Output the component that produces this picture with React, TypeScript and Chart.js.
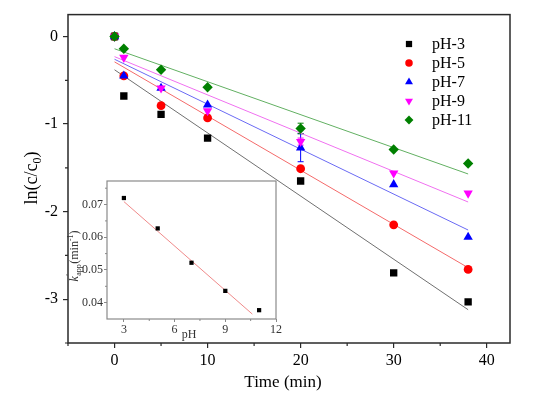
import React, { useEffect, useRef } from 'react';
import { Chart, registerables } from 'chart.js';
import { drawPoint } from 'chart.js/helpers';

Chart.register(...registerables);

const FONT = "'Liberation Serif', 'Times New Roman', serif";

// ---- main chart data ----
const times = [0, 1, 5, 10, 20, 30, 38];
const seriesLabels = ['pH-3', 'pH-5', 'pH-7', 'pH-9', 'pH-11'];
const ph3 = [0, -0.68, -0.89, -1.16, -1.65, -2.7, -3.03];
const ph5 = [0, -0.45, -0.79, -0.93, -1.51, -2.15, -2.66];
const ph7 = [0, -0.45, -0.59, -0.78, -1.27, -1.69, -2.29];
const ph9 = [0, -0.24, -0.59, -0.85, -1.2, -1.56, -1.79];
const ph11 = [0, -0.14, -0.38, -0.58, -1.05, -1.29, -1.45];
const err3 = [0, 0, 0, 0, 0, 0, 0];
const err5 = [0, 0, 0, 0, 0, 0, 0];
const err7 = [0, 0, 0, 0, 0.16, 0, 0];
const err9 = [0, 0, 0, 0, 0.04, 0, 0];
const err11 = [0.04, 0, 0, 0, 0.06, 0, 0];
const fitX = [0, 38];
const fit3 = [-0.38, -3.12];
const fit5 = [-0.29, -2.64];
const fit7 = [-0.26, -2.21];
const fit9 = [-0.23, -1.89];
const fit11 = [-0.14, -1.57];
const xMajorTicks = [0, 10, 20, 30, 40];
const xMinorTicks = [-5, 5, 15, 25, 35];
const yMajorTicks = [-3, -2, -1, 0];
const yMinorTicks = [-3.5, -2.5, -1.5, -0.5];

// ---- inset data ----
const phValues = [3, 5, 7, 9, 11];
const kapp = [0.072, 0.0627, 0.0522, 0.0436, 0.0377];
const kFitX = [3, 10.6];
const kFitY = [0.0709, 0.0365];
const insetXTicks = [3, 6, 9, 12];
const insetXMinor = [4.5, 7.5, 10.5];
const insetYTicks = [0.04, 0.05, 0.06, 0.07];
const insetYMinor = [0.045, 0.055, 0.065, 0.075];

const seriesValues = [ph3, ph5, ph7, ph9, ph11];
const seriesErrors = [err3, err5, err7, err9, err11];
const fitValues = [fit3, fit5, fit7, fit9, fit11];
const markerColors = ['#000000', '#ff0000', '#0000ff', '#ff00ff', '#008000'];
const fitColors = ['#707070', '#f46a6a', '#6a6af4', '#f070f0', '#62b062'];
const markerStyles = ['rect', 'circle', 'triangle', 'triangle', 'rectRot'];
const markerRotation = [0, 0, 0, 180, 0];
const markerRadius = [5.2, 4.4, 5.4, 5.4, 5.2];

const mainDecor = {
  id: 'mainDecor',
  beforeDatasetsDraw(chart: any) {
    const ctx = chart.ctx;
    const ys = chart.scales.y;
    chart.data.datasets.forEach((ds: any, i: number) => {
      if (!ds.errors) return;
      const meta = chart.getDatasetMeta(i);
      ctx.save();
      ctx.strokeStyle = ds.borderColor;
      ctx.lineWidth = 1;
      ds.errors.forEach((e: number, j: number) => {
        if (!e) return;
        const pt = meta.data[j];
        const v = ds.data[j].y;
        const y1 = ys.getPixelForValue(v + e);
        const y2 = ys.getPixelForValue(v - e);
        ctx.beginPath();
        ctx.moveTo(pt.x, y1); ctx.lineTo(pt.x, y2);
        ctx.moveTo(pt.x - 3, y1); ctx.lineTo(pt.x + 3, y1);
        ctx.moveTo(pt.x - 3, y2); ctx.lineTo(pt.x + 3, y2);
        ctx.stroke();
      });
      ctx.restore();
    });
  },
  afterDraw(chart: any) {
    const ctx = chart.ctx;
    const a = chart.chartArea;
    const xs = chart.scales.x;
    const ys = chart.scales.y;
    ctx.save();
    ctx.strokeStyle = '#2a2a2a';
    ctx.lineWidth = 1.5;
    ctx.strokeRect(a.left, a.top, a.right - a.left, a.bottom - a.top);
    ctx.lineWidth = 1.2;
    ctx.beginPath();
    xMinorTicks.forEach((v) => {
      const px = xs.getPixelForValue(v);
      ctx.moveTo(px, a.bottom); ctx.lineTo(px, a.bottom + 3);
    });
    yMinorTicks.forEach((v) => {
      const py = ys.getPixelForValue(v);
      ctx.moveTo(a.left, py); ctx.lineTo(a.left - 3, py);
    });
    ctx.stroke();
    ctx.fillStyle = '#000';
    ctx.font = `17px ${FONT}`;
    ctx.textAlign = 'center';
    ctx.textBaseline = 'middle';
    ctx.fillText('Time (min)', 283, 383);
    ctx.save();
    ctx.translate(31, 178);
    ctx.rotate(-Math.PI / 2);
    ctx.textAlign = 'left';
    ctx.textBaseline = 'alphabetic';
    const big = `18px ${FONT}`;
    const small = `12px ${FONT}`;
    ctx.font = big;
    const w1 = ctx.measureText('ln(c/c').width;
    const w3 = ctx.measureText(')').width;
    ctx.font = small;
    const w2 = ctx.measureText('0').width;
    const x0 = -(w1 + w2 + w3) / 2;
    ctx.font = big;
    ctx.fillText('ln(c/c', x0, 6);
    ctx.font = small;
    ctx.fillText('0', x0 + w1, 10);
    ctx.font = big;
    ctx.fillText(')', x0 + w1 + w2, 6);
    ctx.restore();
    const rowY = [44, 63, 82, 101, 120];
    ctx.font = `16px ${FONT}`;
    ctx.textAlign = 'left';
    ctx.textBaseline = 'middle';
    seriesLabels.forEach((lab, i) => {
      ctx.fillStyle = markerColors[i];
      drawPoint(ctx, { pointStyle: markerStyles[i], rotation: markerRotation[i], radius: markerRadius[i] * 0.85, borderWidth: 0 } as any, 409, rowY[i]);
      ctx.fillStyle = '#000';
      ctx.fillText(lab, 432, rowY[i] + 1);
    });
    ctx.restore();
  },
};

const insetDecor = {
  id: 'insetDecor',
  beforeDraw(chart: any) {
    const a = chart.chartArea;
    const ctx = chart.ctx;
    ctx.save();
    ctx.fillStyle = '#fff';
    ctx.fillRect(a.left, a.top, a.right - a.left, a.bottom - a.top);
    ctx.restore();
  },
  afterDraw(chart: any) {
    const ctx = chart.ctx;
    const a = chart.chartArea;
    const xs = chart.scales.x;
    const ys = chart.scales.y;
    ctx.save();
    ctx.strokeStyle = '#8a8a8a';
    ctx.lineWidth = 1.2;
    ctx.strokeRect(a.left, a.top, a.right - a.left, a.bottom - a.top);
    ctx.lineWidth = 1;
    ctx.beginPath();
    insetXMinor.forEach((v) => {
      const px = xs.getPixelForValue(v);
      ctx.moveTo(px, a.bottom); ctx.lineTo(px, a.bottom + 2);
    });
    insetYMinor.forEach((v) => {
      const py = ys.getPixelForValue(v);
      ctx.moveTo(a.left, py); ctx.lineTo(a.left - 2, py);
    });
    ctx.stroke();
    ctx.fillStyle = '#333';
    ctx.font = `12px ${FONT}`;
    ctx.textAlign = 'center';
    ctx.textBaseline = 'middle';
    ctx.fillText('pH', 129, 165);
    ctx.save();
    ctx.translate(14, 86);
    ctx.rotate(-Math.PI / 2);
    ctx.textAlign = 'left';
    ctx.textBaseline = 'alphabetic';
    const fK = `italic 12px ${FONT}`;
    const fN = `12px ${FONT}`;
    const fS = `8px ${FONT}`;
    ctx.font = fK; const wk = ctx.measureText('k').width;
    ctx.font = fS; const wa = ctx.measureText('app').width;
    ctx.font = fN; const wm = ctx.measureText('(min').width;
    ctx.font = fS; const we = ctx.measureText('-1').width;
    ctx.font = fN; const wp = ctx.measureText(')').width;
    const tot = wk + wa + wm + we + wp + 1;
    let x = -tot / 2;
    const base = 4;
    ctx.font = fK; ctx.fillText('k', x, base); x += wk + 0.5;
    ctx.font = fS; ctx.fillText('\u2032', x, base - 6); ctx.fillText('app', x, base + 3); x += wa + 0.5;
    ctx.font = fN; ctx.fillText('(min', x, base); x += wm;
    ctx.font = fS; ctx.fillText('-1', x, base - 5); x += we;
    ctx.font = fN; ctx.fillText(')', x, base);
    ctx.restore();
    ctx.restore();
  },
};

export default function App() {
  const mainRef = useRef<HTMLCanvasElement>(null);
  const insetRef = useRef<HTMLCanvasElement>(null);

  useEffect(() => {
    const datasets: any[] = [];
    seriesLabels.forEach((lab, i) => {
      datasets.push({
        type: 'scatter',
        label: lab,
        data: times.map((t, j) => ({ x: t, y: seriesValues[i][j] })),
        pointStyle: markerStyles[i],
        rotation: markerRotation[i],
        pointRadius: markerRadius[i],
        backgroundColor: markerColors[i],
        borderColor: markerColors[i],
        borderWidth: 0,
        showLine: false,
        errors: seriesErrors[i],
        order: 5 - i,
      });
    });
    seriesLabels.forEach((lab, i) => {
      datasets.push({
        type: 'scatter',
        label: lab + ' fit',
        data: fitX.map((t, j) => ({ x: t, y: fitValues[i][j] })),
        showLine: true,
        pointRadius: 0,
        borderColor: fitColors[i],
        borderWidth: 1,
        fill: false,
        order: 10,
      });
    });

    const main = new Chart(mainRef.current as HTMLCanvasElement, {
      type: 'scatter',
      data: { datasets },
      plugins: [mainDecor],
      options: {
        animation: false,
        responsive: false,
        events: [],
        layout: { padding: { top: 14, right: 40, left: 0, bottom: 0 } },
        plugins: { legend: { display: false }, tooltip: { enabled: false } },
        scales: {
          x: {
            type: 'linear',
            min: -5,
            max: 42.5,
            afterBuildTicks: (s: any) => { s.ticks = xMajorTicks.map((v) => ({ value: v })); },
            afterFit: (s: any) => { s.height = 51; },
            ticks: { color: '#000', font: { family: FONT, size: 16 }, padding: 3, maxRotation: 0, autoSkip: false, callback: (v: any) => String(v) },
            grid: { drawOnChartArea: false, drawTicks: true, tickLength: 5, color: '#2a2a2a', lineWidth: 1.2 },
            border: { display: false },
          },
          y: {
            type: 'linear',
            min: -3.5,
            max: 0.25,
            afterBuildTicks: (s: any) => { s.ticks = yMajorTicks.map((v) => ({ value: v })); },
            afterFit: (s: any) => { s.width = 68; },
            ticks: { color: '#000', font: { family: FONT, size: 16 }, padding: 5, autoSkip: false, callback: (v: any) => String(v) },
            grid: { drawOnChartArea: false, drawTicks: true, tickLength: 5, color: '#2a2a2a', lineWidth: 1.2 },
            border: { display: false },
          },
        },
      } as any,
    });

    const inset = new Chart(insetRef.current as HTMLCanvasElement, {
      type: 'scatter',
      data: {
        datasets: [
          {
            type: 'scatter',
            label: 'kapp',
            data: phValues.map((p, j) => ({ x: p, y: kapp[j] })),
            pointStyle: 'rect',
            pointRadius: 3,
            backgroundColor: '#000',
            borderWidth: 0,
            order: 0,
          },
          {
            type: 'scatter',
            label: 'fit',
            data: kFitX.map((p, j) => ({ x: p, y: kFitY[j] })),
            showLine: true,
            pointRadius: 0,
            borderColor: '#f08a8a',
            borderWidth: 1,
            order: 1,
          },
        ] as any,
      },
      plugins: [insetDecor],
      options: {
        animation: false,
        responsive: false,
        events: [],
        layout: { padding: { top: 11, right: 14, left: 0, bottom: 0 } },
        plugins: { legend: { display: false }, tooltip: { enabled: false } },
        scales: {
          x: {
            type: 'linear',
            min: 2,
            max: 12,
            afterBuildTicks: (s: any) => { s.ticks = insetXTicks.map((v) => ({ value: v })); },
            afterFit: (s: any) => { s.height = 31; },
            ticks: { color: '#333', font: { family: FONT, size: 12 }, padding: 1, maxRotation: 0, autoSkip: false, callback: (v: any) => String(v) },
            grid: { drawOnChartArea: false, drawTicks: true, tickLength: 3, color: '#8a8a8a', lineWidth: 1 },
            border: { display: false },
          },
          y: {
            type: 'linear',
            min: 0.035,
            max: 0.0772,
            afterBuildTicks: (s: any) => { s.ticks = insetYTicks.map((v) => ({ value: v })); },
            afterFit: (s: any) => { s.width = 47; },
            ticks: { color: '#333', font: { family: FONT, size: 12 }, padding: 1, autoSkip: false, callback: (v: any) => Number(v).toFixed(2) },
            grid: { drawOnChartArea: false, drawTicks: true, tickLength: 3, color: '#8a8a8a', lineWidth: 1 },
            border: { display: false },
          },
        },
      } as any,
    });

    return () => {
      main.destroy();
      inset.destroy();
    };
  }, []);

  return (
    <div style={{ position: 'fixed', left: 0, top: 0, width: 550, height: 394, background: '#fff' }}>
      <canvas ref={mainRef} width={550} height={394} style={{ position: 'absolute', left: 0, top: 0, width: 550, height: 394 }} />
      <canvas ref={insetRef} width={230} height={180} style={{ position: 'absolute', left: 60, top: 170, width: 230, height: 180 }} />
    </div>
  );
}
